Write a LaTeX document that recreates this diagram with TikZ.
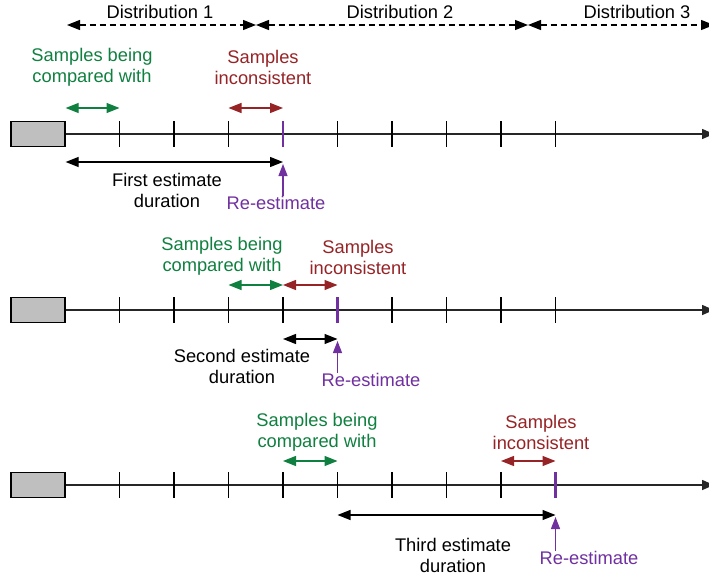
\documentclass[tikz,border=0pt]{standalone}
\usepackage{fontspec}
\setmainfont{Liberation Sans}
\usetikzlibrary{arrows.meta}
\definecolor{cmpgreen}{RGB}{16,128,64}
\definecolor{incred}{RGB}{150,35,38}
\definecolor{reviolet}{RGB}{112,48,160}
\tikzset{
  lbl/.style={font=\fontsize{18.3}{21}\selectfont,align=center,inner sep=0pt},
  ar/.style={{Triangle[length=13pt,width=10pt]}-{Triangle[length=13pt,width=10pt]},line width=1.3pt},
  dist/.style={ar,dash pattern=on 6pt off 4pt},
  axisln/.style={-{Triangle[length=12pt,width=10pt]},line width=1.5pt,draw=black!85},
  tk/.style={line width=1.3pt},
  ptk/.style={line width=2.6pt,draw=reviolet},
  blk/.style={draw,line width=1.3pt,fill=black!25,minimum width=54pt,minimum height=25pt,inner sep=0pt},
  reup/.style={-{Triangle[length=12pt,width=9pt]},line width=1.3pt,draw=reviolet},
}

\begin{document}
\begin{tikzpicture}[x=1pt,y=-1pt]
  \useasboundingbox (0,0) rectangle (709,581);

  % distributions on top
  \coordinate (d0) at (67,25);
  \coordinate (d1) at (256,25);
  \coordinate (d2) at (528,25);
  \coordinate (d3) at (714,25);
  \draw[dist] (d0) -- (d1);
  \draw[dist] (d1) -- (d2);
  \draw[dist] (d2) -- (d3);
  \node[lbl] (dl1) at (160,12) {Distribution 1};
  \node[lbl] (dl2) at (400,12) {Distribution 2};
  \node[lbl] (dl3) at (637,12) {Distribution 3};

  % three time lines
  \foreach \r/\y/\p in {1/134/4,2/310/5,3/485/9}{
    \node[blk] (b\r) at (38,\y) {};
    \coordinate (t\r-0) at (b\r.east);
    \coordinate (e\r) at (714,\y);
    \draw[axisln] (b\r.east) -- (e\r);
    \foreach \k in {1,...,9}{
      \coordinate (t\r-\k) at (65+54.5*\k,\y);
      \draw[tk] ([yshift=13pt]t\r-\k) -- ([yshift=-13pt]t\r-\k);
    }
    \draw[ptk] ([yshift=13pt]t\r-\p) -- ([yshift=-13pt]t\r-\p);
  }

  % first estimate
  \node[lbl,text=cmpgreen] (g1) at (92,67.5) {Samples being\\compared with};
  \node[lbl,text=incred] (i1) at (263,67.5) {Samples\\inconsistent};
  \draw[ar,cmpgreen] ([yshift=26pt]t1-0) -- ([yshift=26pt]t1-1);
  \draw[ar,incred] ([yshift=26pt]t1-3) -- ([yshift=26pt]t1-4);
  \draw[ar] ([yshift=-28pt]t1-0) -- ([yshift=-28pt]t1-4);
  \node[lbl] (f1) at (167,190) {First estimate\\duration};
  \node[lbl,text=reviolet] (re1) at (276,203) {Re-estimate};
  \draw[reup] (re1.north -| t1-4) -- ([yshift=-30pt]t1-4);

  % second estimate
  \node[lbl,text=cmpgreen] (g2) at (222,256.5) {Samples being\\compared with};
  \node[lbl,text=incred] (i2) at (358,257) {Samples\\inconsistent};
  \draw[ar,cmpgreen] ([yshift=25pt]t2-3) -- ([yshift=25pt]t2-4);
  \draw[ar,incred] ([yshift=25pt]t2-4) -- ([yshift=25pt]t2-5);
  \draw[ar] ([yshift=-29pt]t2-4) -- ([yshift=-29pt]t2-5);
  \node[lbl] (f2) at (242,366) {Second estimate\\duration};
  \node[lbl,text=reviolet] (re2) at (371,380) {Re-estimate};
  \draw[reup] (re2.north -| t2-5) -- ([yshift=-31pt]t2-5);

  % third estimate
  \node[lbl,text=cmpgreen] (g3) at (317,432.5) {Samples being\\compared with};
  \node[lbl,text=incred] (i3) at (541,432.5) {Samples\\inconsistent};
  \draw[ar,cmpgreen] ([yshift=24pt]t3-4) -- ([yshift=24pt]t3-5);
  \draw[ar,incred] ([yshift=24pt]t3-8) -- ([yshift=24pt]t3-9);
  \draw[ar] ([yshift=-30pt]t3-5) -- ([yshift=-30pt]t3-9);
  \node[lbl] (f3) at (453,555.5) {Third estimate\\duration};
  \node[lbl,text=reviolet] (re3) at (589,558) {Re-estimate};
  \draw[reup] (re3.north -| t3-9) -- ([yshift=-32pt]t3-9);
\end{tikzpicture}
\end{document}
